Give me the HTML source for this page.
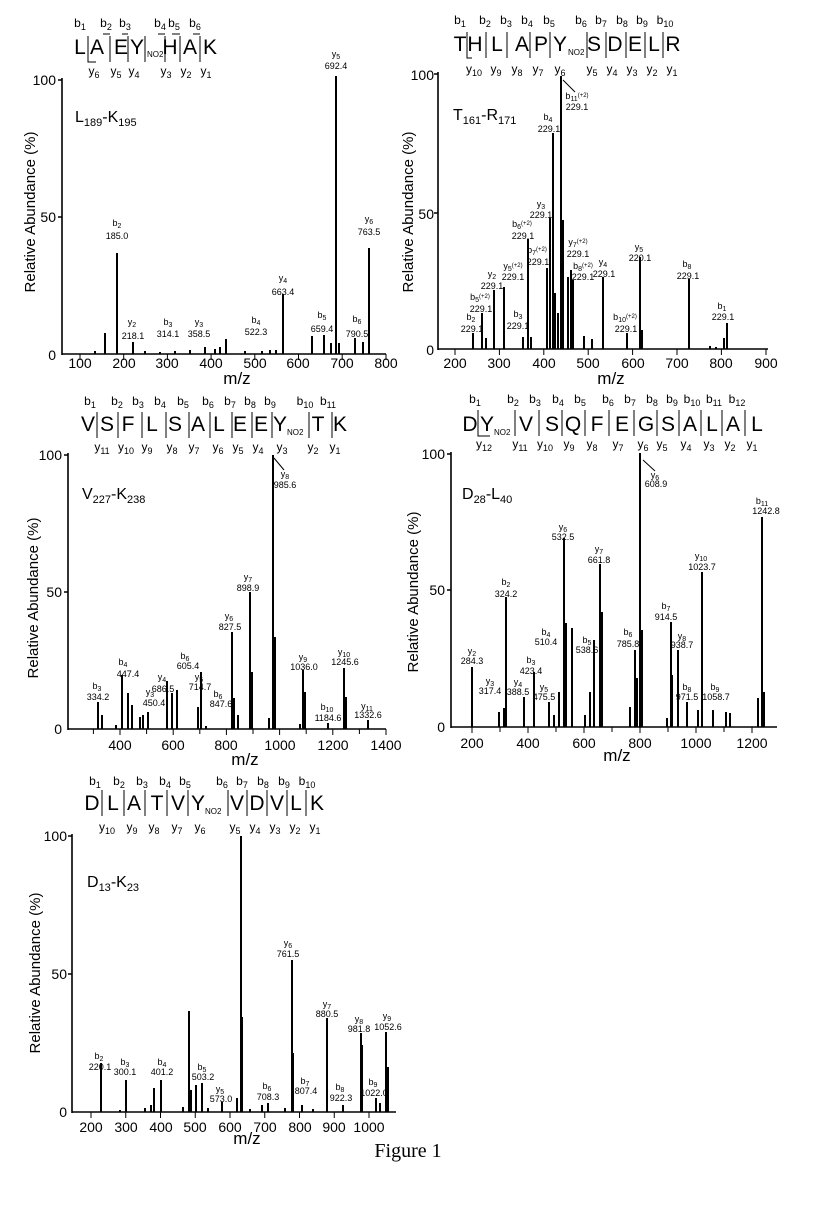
<!DOCTYPE html>
<html><head><meta charset="utf-8"><style>
html,body{margin:0;padding:0;background:#fff}
svg{display:block}
text{font-family:"Liberation Sans",sans-serif;fill:#000}
.t{font-size:14px;text-anchor:middle}
.yt{font-size:14px;text-anchor:end}
.p{font-size:9px;text-anchor:middle}
.h{font-size:21px;text-anchor:middle}
.s{font-size:12px;text-anchor:middle}
.ax{font-size:15px;text-anchor:middle}
.nm{font-size:16px}
.mz{font-size:17px;text-anchor:middle}
.pk{stroke:#000;stroke-width:2;fill:none}
.ln{stroke:#000;stroke-width:1.6;fill:none}
.th{stroke:#000;stroke-width:1;fill:none}
</style></head><body>
<svg width="815" height="1205" viewBox="0 0 815 1205" xmlns="http://www.w3.org/2000/svg">

<!-- ===== Panel 1 ===== -->
<g>
<text class="s" x="80" y="27">b<tspan font-size="9" dy="3">1</tspan></text>
<text class="s" x="106" y="27">b<tspan font-size="9" dy="3">2</tspan></text>
<text class="s" x="125" y="27">b<tspan font-size="9" dy="3">3</tspan></text>
<text class="s" x="160" y="27">b<tspan font-size="9" dy="3">4</tspan></text>
<text class="s" x="174" y="27">b<tspan font-size="9" dy="3">5</tspan></text>
<text class="s" x="195" y="27">b<tspan font-size="9" dy="3">6</tspan></text>
<text class="h" x="80" y="54">L</text><text class="h" x="97" y="54">A</text><text class="h" x="121" y="54">E</text><text class="h" x="137" y="54">Y</text><text x="147" y="57" font-size="8">NO2</text><text class="h" x="170" y="54">H</text><text class="h" x="190" y="54">A</text><text class="h" x="210" y="54">K</text>
<path class="th" d="M88 36V62H96 M110 36V62 M103 34H110 M128 36V62 M122 34H128 M145 36V62 M165 36V62 M158 34H165 M180 36V62 M172 34H180 M200 36V62 M193 34H200"/>
<text class="s" x="94" y="75">y<tspan font-size="9" dy="3">6</tspan></text>
<text class="s" x="116" y="75">y<tspan font-size="9" dy="3">5</tspan></text>
<text class="s" x="134" y="75">y<tspan font-size="9" dy="3">4</tspan></text>
<text class="s" x="166" y="75">y<tspan font-size="9" dy="3">3</tspan></text>
<text class="s" x="186" y="75">y<tspan font-size="9" dy="3">2</tspan></text>
<text class="s" x="206" y="75">y<tspan font-size="9" dy="3">1</tspan></text>

<path class="ln" d="M62 78V355 M58 80H62 M58 217H62 M62 354H386"/>
<path class="th" d="M80 354v6 M123.7 354v6 M167.4 354v6 M211.1 354v6 M254.8 354v6 M298.5 354v6 M342.2 354v6 M386 354v6"/>
<text class="yt" x="56" y="85">100</text><text class="yt" x="56" y="222">50</text><text class="yt" x="56" y="360">0</text>
<text class="t" x="80" y="368">100</text><text class="t" x="124" y="368">200</text><text class="t" x="167" y="368">300</text><text class="t" x="211" y="368">400</text><text class="t" x="255" y="368">500</text><text class="t" x="298" y="368">600</text><text class="t" x="342" y="368">700</text><text class="t" x="386" y="368">800</text>
<text class="mz" x="237" y="384">m/z</text>
<text class="ax" transform="translate(35,212) rotate(-90)">Relative Abundance (%)</text>
<text class="nm" x="75" y="122">L<tspan font-size="11" dy="4">189</tspan><tspan dy="-4">-K</tspan><tspan font-size="11" dy="4">195</tspan></text>
<path class="pk" d="M105 354V333 M117 354V253 M133 354V342 M205 354V347 M226 354V339 M283 354V294 M312 354V336 M324 354V335 M331 354V343 M336 354V76 M339 354V343 M355 354V338 M363 354V342 M369 354V248 M95 354V351 M145 354V351 M160 354V352 M175 354V351 M190 354V350 M215 354V349 M220 354V347 M245 354V351 M262 354V351 M270 354V350 M276 354V350"/>
<g class="p">
<text x="336" y="57">y<tspan font-size="7" dy="2">5</tspan></text><text x="336" y="69">692.4</text>
<text x="117" y="226">b<tspan font-size="7" dy="2">2</tspan></text><text x="117" y="239">185.0</text>
<text x="369" y="222">y<tspan font-size="7" dy="2">6</tspan></text><text x="369" y="235">763.5</text>
<text x="283" y="281">y<tspan font-size="7" dy="2">4</tspan></text><text x="283" y="295">663.4</text>
<text x="322" y="318">b<tspan font-size="7" dy="2">5</tspan></text><text x="322" y="332">659.4</text>
<text x="357" y="322">b<tspan font-size="7" dy="2">6</tspan></text><text x="357" y="337">790.5</text>
<text x="132" y="325">y<tspan font-size="7" dy="2">2</tspan></text><text x="133" y="339">218.1</text>
<text x="168" y="325">b<tspan font-size="7" dy="2">3</tspan></text><text x="168" y="337">314.1</text>
<text x="199" y="325">y<tspan font-size="7" dy="2">3</tspan></text><text x="199" y="337">358.5</text>
<text x="256" y="323">b<tspan font-size="7" dy="2">4</tspan></text><text x="256" y="335">522.3</text>
</g>
</g>

<!-- ===== Panel 2 ===== -->
<g>
<g class="s">
<text x="460" y="24">b<tspan font-size="9" dy="3">1</tspan></text><text x="485" y="24">b<tspan font-size="9" dy="3">2</tspan></text><text x="506" y="24">b<tspan font-size="9" dy="3">3</tspan></text><text x="527" y="24">b<tspan font-size="9" dy="3">4</tspan></text><text x="549" y="24">b<tspan font-size="9" dy="3">5</tspan></text><text x="581" y="24">b<tspan font-size="9" dy="3">6</tspan></text><text x="601" y="24">b<tspan font-size="9" dy="3">7</tspan></text><text x="622" y="24">b<tspan font-size="9" dy="3">8</tspan></text><text x="642" y="24">b<tspan font-size="9" dy="3">9</tspan></text><text x="665" y="24">b<tspan font-size="9" dy="3">10</tspan></text>
<text x="474" y="73">y<tspan font-size="9" dy="3">10</tspan></text><text x="496" y="73">y<tspan font-size="9" dy="3">9</tspan></text><text x="517" y="73">y<tspan font-size="9" dy="3">8</tspan></text><text x="538" y="73">y<tspan font-size="9" dy="3">7</tspan></text><text x="560" y="73">y<tspan font-size="9" dy="3">6</tspan></text><text x="592" y="73">y<tspan font-size="9" dy="3">5</tspan></text><text x="612" y="73">y<tspan font-size="9" dy="3">4</tspan></text><text x="632" y="73">y<tspan font-size="9" dy="3">3</tspan></text><text x="652" y="73">y<tspan font-size="9" dy="3">2</tspan></text><text x="672" y="73">y<tspan font-size="9" dy="3">1</tspan></text>
</g>
<g class="h"><text x="460" y="51">T</text><text x="475" y="51">H</text><text x="497" y="51">L</text><text x="522" y="51">A</text><text x="541" y="51">P</text><text x="560" y="51">Y</text><text x="594" y="51">S</text><text x="615" y="51">D</text><text x="635" y="51">E</text><text x="654" y="51">L</text><text x="673" y="51">R</text></g>
<text x="568" y="55" font-size="8">NO2</text>
<path class="th" d="M467 32V58H472 M486 32V58 M507 32V58 M530 32V58 M550 32V58 M587 32V58 M606 32V58 M626 32V58 M645 32V58 M663 32V58"/>
<path class="ln" d="M438 72V350 M434 74H438 M434 213H438 M438 349H768"/>
<path class="th" d="M455 349v6 M499.4 349v6 M543.8 349v6 M588.2 349v6 M632.6 349v6 M677 349v6 M721.4 349v6 M766 349v6"/>
<text class="yt" x="434" y="80">100</text><text class="yt" x="434" y="219">50</text><text class="yt" x="434" y="355">0</text>
<text class="t" x="455" y="368">200</text><text class="t" x="499" y="368">300</text><text class="t" x="544" y="368">400</text><text class="t" x="588" y="368">500</text><text class="t" x="633" y="368">600</text><text class="t" x="677" y="368">700</text><text class="t" x="721" y="368">800</text><text class="t" x="766" y="368">900</text>
<text class="mz" x="611" y="384">m/z</text>
<text class="ax" transform="translate(413,212) rotate(-90)">Relative Abundance (%)</text>
<text class="nm" x="453" y="120">T<tspan font-size="11" dy="4">161</tspan><tspan dy="-4">-R</tspan><tspan font-size="11" dy="4">171</tspan></text>
<path class="pk" d="M473 349V333 M482 349V313 M486 349V338 M494 349V290 M504 349V287 M523 349V337 M528 349V239 M531 349V337 M547 349V268 M550 349V218 M553 349V133 M555 349V293 M558 349V313 M561 349V76 M563 349V220 M568 349V277 M571 349V270 M573 349V280 M584 349V336 M592 349V339 M603 349V277 M627 349V333 M640 349V257 M642 349V330 M689 349V279 M724 349V338 M727 349V323 M710 349V346 M716 349V347"/>
<g class="p">
<text x="577" y="99">b<tspan font-size="7" dy="2">11</tspan><tspan font-size="6" dy="-4">(+2)</tspan></text><text x="577" y="110">229.1</text>
<path class="th" d="M563 80L575 92"/>
<text x="548" y="120">b<tspan font-size="7" dy="2">4</tspan></text><text x="549" y="132">229.1</text>
<text x="541" y="207">y<tspan font-size="7" dy="2">3</tspan></text><text x="541" y="218">229.1</text>
<text x="522" y="227">b<tspan font-size="7" dy="2">6</tspan><tspan font-size="6" dy="-4">(+2)</tspan></text><text x="523" y="239">229.1</text>
<text x="537" y="253">b<tspan font-size="7" dy="2">7</tspan><tspan font-size="6" dy="-4">(+2)</tspan></text><text x="538" y="265">229.1</text>
<text x="578" y="245">y<tspan font-size="7" dy="2">7</tspan><tspan font-size="6" dy="-4">(+2)</tspan></text><text x="578" y="257">229.1</text>
<text x="513" y="269">y<tspan font-size="7" dy="2">5</tspan><tspan font-size="6" dy="-4">(+2)</tspan></text><text x="513" y="280">229.1</text>
<text x="492" y="277">y<tspan font-size="7" dy="2">2</tspan></text><text x="492" y="289">229.1</text>
<text x="583" y="269">b<tspan font-size="7" dy="2">8</tspan><tspan font-size="6" dy="-4">(+2)</tspan></text><text x="583" y="280">229.1</text>
<text x="603" y="265">y<tspan font-size="7" dy="2">4</tspan></text><text x="604" y="277">229.1</text>
<text x="639" y="250">y<tspan font-size="7" dy="2">5</tspan></text><text x="640" y="261">220.1</text>
<text x="687" y="267">b<tspan font-size="7" dy="2">8</tspan></text><text x="688" y="279">229.1</text>
<text x="480" y="300">b<tspan font-size="7" dy="2">5</tspan><tspan font-size="6" dy="-4">(+2)</tspan></text><text x="481" y="312">229.1</text>
<text x="471" y="320">b<tspan font-size="7" dy="2">2</tspan></text><text x="472" y="332">229.1</text>
<text x="518" y="317">b<tspan font-size="7" dy="2">3</tspan></text><text x="518" y="329">229.1</text>
<text x="625" y="320">b<tspan font-size="7" dy="2">10</tspan><tspan font-size="6" dy="-4">(+2)</tspan></text><text x="626" y="332">229.1</text>
<text x="722" y="309">b<tspan font-size="7" dy="2">1</tspan></text><text x="723" y="320">229.1</text>
</g>
</g>

<!-- ===== Panel 3 ===== -->
<g>
<g class="s">
<text x="90" y="405">b<tspan font-size="9" dy="3">1</tspan></text><text x="117" y="405">b<tspan font-size="9" dy="3">2</tspan></text><text x="138" y="405">b<tspan font-size="9" dy="3">3</tspan></text><text x="160" y="405">b<tspan font-size="9" dy="3">4</tspan></text><text x="183" y="405">b<tspan font-size="9" dy="3">5</tspan></text><text x="208" y="405">b<tspan font-size="9" dy="3">6</tspan></text><text x="230" y="405">b<tspan font-size="9" dy="3">7</tspan></text><text x="250" y="405">b<tspan font-size="9" dy="3">8</tspan></text><text x="270" y="405">b<tspan font-size="9" dy="3">9</tspan></text><text x="305" y="405">b<tspan font-size="9" dy="3">10</tspan></text><text x="328" y="405">b<tspan font-size="9" dy="3">11</tspan></text>
<text x="102" y="451">y<tspan font-size="9" dy="3">11</tspan></text><text x="126" y="451">y<tspan font-size="9" dy="3">10</tspan></text><text x="147" y="451">y<tspan font-size="9" dy="3">9</tspan></text><text x="172" y="451">y<tspan font-size="9" dy="3">8</tspan></text><text x="194" y="451">y<tspan font-size="9" dy="3">7</tspan></text><text x="218" y="451">y<tspan font-size="9" dy="3">6</tspan></text><text x="238" y="451">y<tspan font-size="9" dy="3">5</tspan></text><text x="258" y="451">y<tspan font-size="9" dy="3">4</tspan></text><text x="282" y="451">y<tspan font-size="9" dy="3">3</tspan></text><text x="313" y="451">y<tspan font-size="9" dy="3">2</tspan></text><text x="335" y="451">y<tspan font-size="9" dy="3">1</tspan></text>
</g>
<g class="h"><text x="88" y="431">V</text><text x="107" y="431">S</text><text x="128" y="431">F</text><text x="152" y="431">L</text><text x="175" y="431">S</text><text x="198" y="431">A</text><text x="219" y="431">L</text><text x="240" y="431">E</text><text x="261" y="431">E</text><text x="280" y="431">Y</text><text x="318" y="431">T</text><text x="340" y="431">K</text></g>
<text x="287" y="435" font-size="8">NO2</text>
<path class="th" d="M97 412V438 M118 412V438 M142 412V438 M166 412V438 M189 412V438 M210 412V438 M232 412V438 M252 412V438 M272 412V438 M309 412V438 M332 412V438"/>
<path class="ln" d="M68 453V730 M64 455H68 M64 592H68 M68 729H386"/>
<path class="th" d="M93.4 729v5 M120 729v6 M146.6 729v5 M173.2 729v6 M199.8 729v5 M226.4 729v6 M253 729v5 M279.6 729v6 M306.2 729v5 M332.8 729v6 M359.4 729v5 M386 729v6"/>
<text class="yt" x="62" y="460">100</text><text class="yt" x="62" y="597">50</text><text class="yt" x="62" y="734">0</text>
<text class="t" x="120" y="750">400</text><text class="t" x="173" y="750">600</text><text class="t" x="226" y="750">800</text><text class="t" x="280" y="750">1000</text><text class="t" x="333" y="750">1200</text><text class="t" x="386" y="750">1400</text>
<text class="mz" x="245" y="765">m/z</text>
<text class="ax" transform="translate(38,598) rotate(-90)">Relative Abundance (%)</text>
<text class="nm" x="82" y="499">V<tspan font-size="11" dy="4">227</tspan><tspan dy="-4">-K</tspan><tspan font-size="11" dy="4">238</tspan></text>
<path class="pk" d="M98 729V702 M102 729V715 M122 729V675 M128 729V693 M132 729V705 M140 729V717 M143 729V715 M148 729V712 M167 729V681 M172 729V693 M177 729V690 M198 729V707 M201 729V672 M232 729V632 M234 729V698 M238 729V715 M250 729V592 M252 729V672 M269 729V718 M273 729V455 M275 729V637 M303 729V670 M305 729V692 M328 729V723 M344 729V668 M346 729V697 M368 729V720 M116 729V725 M206 729V726 M300 729V724"/>
<g class="p">
<text x="285" y="477">y<tspan font-size="7" dy="2">8</tspan></text><text x="285" y="488">985.6</text>
<path class="th" d="M274 458L284 470"/>
<text x="248" y="580">y<tspan font-size="7" dy="2">7</tspan></text><text x="248" y="591">898.9</text>
<text x="229" y="619">y<tspan font-size="7" dy="2">6</tspan></text><text x="230" y="630">827.5</text>
<text x="123" y="665">b<tspan font-size="7" dy="2">4</tspan></text><text x="128" y="677">447.4</text>
<text x="97" y="689">b<tspan font-size="7" dy="2">3</tspan></text><text x="98" y="700">334.2</text>
<text x="150" y="695">y<tspan font-size="7" dy="2">3</tspan></text><text x="154" y="706">450.4</text>
<text x="162" y="680">y<tspan font-size="7" dy="2">4</tspan></text><text x="163" y="692">686.5</text>
<text x="185" y="659">b<tspan font-size="7" dy="2">6</tspan></text><text x="188" y="669">605.4</text>
<text x="199" y="680">y<tspan font-size="7" dy="2">5</tspan></text><text x="200" y="690">714.7</text>
<text x="218" y="697">b<tspan font-size="7" dy="2">6</tspan></text><text x="221" y="707">847.6</text>
<text x="303" y="660">y<tspan font-size="7" dy="2">9</tspan></text><text x="304" y="670">1036.0</text>
<text x="344" y="655">y<tspan font-size="7" dy="2">10</tspan></text><text x="345" y="665">1245.6</text>
<text x="327" y="710">b<tspan font-size="7" dy="2">10</tspan></text><text x="328" y="721">1184.6</text>
<text x="367" y="709">y<tspan font-size="7" dy="2">11</tspan></text><text x="368" y="718">1332.6</text>
</g>
</g>

<!-- ===== Panel 4 ===== -->
<g>
<g class="s">
<text x="475" y="403">b<tspan font-size="9" dy="3">1</tspan></text><text x="513" y="403">b<tspan font-size="9" dy="3">2</tspan></text><text x="535" y="403">b<tspan font-size="9" dy="3">3</tspan></text><text x="558" y="403">b<tspan font-size="9" dy="3">4</tspan></text><text x="580" y="403">b<tspan font-size="9" dy="3">5</tspan></text><text x="608" y="403">b<tspan font-size="9" dy="3">6</tspan></text><text x="630" y="403">b<tspan font-size="9" dy="3">7</tspan></text><text x="652" y="403">b<tspan font-size="9" dy="3">8</tspan></text><text x="672" y="403">b<tspan font-size="9" dy="3">9</tspan></text><text x="692" y="403">b<tspan font-size="9" dy="3">10</tspan></text><text x="714" y="403">b<tspan font-size="9" dy="3">11</tspan></text><text x="737" y="403">b<tspan font-size="9" dy="3">12</tspan></text>
<text x="484" y="448">y<tspan font-size="9" dy="3">12</tspan></text><text x="520" y="448">y<tspan font-size="9" dy="3">11</tspan></text><text x="545" y="448">y<tspan font-size="9" dy="3">10</tspan></text><text x="569" y="448">y<tspan font-size="9" dy="3">9</tspan></text><text x="592" y="448">y<tspan font-size="9" dy="3">8</tspan></text><text x="618" y="448">y<tspan font-size="9" dy="3">7</tspan></text><text x="643" y="448">y<tspan font-size="9" dy="3">6</tspan></text><text x="662" y="448">y<tspan font-size="9" dy="3">5</tspan></text><text x="686" y="448">y<tspan font-size="9" dy="3">4</tspan></text><text x="709" y="448">y<tspan font-size="9" dy="3">3</tspan></text><text x="730" y="448">y<tspan font-size="9" dy="3">2</tspan></text><text x="752" y="448">y<tspan font-size="9" dy="3">1</tspan></text>
</g>
<g class="h"><text x="470" y="431">D</text><text x="487" y="431">Y</text><text x="526" y="431">V</text><text x="552" y="431">S</text><text x="573" y="431">Q</text><text x="597" y="431">F</text><text x="622" y="431">E</text><text x="646" y="431">G</text><text x="668" y="431">S</text><text x="690" y="431">A</text><text x="712" y="431">L</text><text x="733" y="431">A</text><text x="757" y="431">L</text></g>
<text x="494" y="435" font-size="8">NO2</text>
<path class="th" d="M478 410V436H490 M515 410V436 M539 410V436 M562 410V436 M585 410V436 M609 410V436 M634 410V436 M657 410V436 M679 410V436 M701 410V436 M722 410V436 M745 410V436"/>
<path class="ln" d="M451 452V728 M447 454H451 M447 590H451 M451 727H777"/>
<path class="th" d="M472 727v6 M500 727v5 M528 727v6 M556 727v5 M584 727v6 M612 727v5 M640 727v6 M668 727v5 M696 727v6 M724 727v5 M752 727v6"/>
<text class="yt" x="445" y="459">100</text><text class="yt" x="445" y="595">50</text><text class="yt" x="445" y="732">0</text>
<text class="t" x="472" y="748">200</text><text class="t" x="528" y="748">400</text><text class="t" x="584" y="748">600</text><text class="t" x="640" y="748">800</text><text class="t" x="696" y="748">1000</text><text class="t" x="752" y="748">1200</text>
<text class="mz" x="617" y="761">m/z</text>
<text class="ax" transform="translate(418,592) rotate(-90)">Relative Abundance (%)</text>
<text class="nm" x="462" y="499">D<tspan font-size="11" dy="4">28</tspan><tspan dy="-4">-L</tspan><tspan font-size="11" dy="4">40</tspan></text>
<path class="pk" d="M472 727V667 M499 727V712 M504 727V708 M506 727V597 M524 727V697 M534 727V672 M549 727V702 M554 727V715 M559 727V692 M564 727V538 M566 727V623 M572 727V628 M585 727V715 M590 727V692 M594 727V640 M600 727V564 M602 727V612 M630 727V707 M635 727V650 M637 727V678 M640 727V453 M642 727V630 M667 727V718 M671 727V622 M672 727V675 M678 727V650 M687 727V702 M698 727V710 M702 727V572 M713 727V710 M726 727V712 M730 727V713 M758 727V698 M762 727V517 M764 727V692"/>
<g class="p">
<text x="655" y="478">y<tspan font-size="7" dy="2">6</tspan></text><text x="656" y="487">608.9</text>
<path class="th" d="M643 460L655 471"/>
<text x="762" y="504">b<tspan font-size="7" dy="2">11</tspan></text><text x="766" y="514">1242.8</text>
<text x="563" y="530">y<tspan font-size="7" dy="2">6</tspan></text><text x="563" y="540">532.5</text>
<text x="599" y="552">y<tspan font-size="7" dy="2">7</tspan></text><text x="599" y="563">661.8</text>
<text x="701" y="559">y<tspan font-size="7" dy="2">10</tspan></text><text x="702" y="570">1023.7</text>
<text x="506" y="585">b<tspan font-size="7" dy="2">2</tspan></text><text x="506" y="597">324.2</text>
<text x="666" y="609">b<tspan font-size="7" dy="2">7</tspan></text><text x="666" y="620">914.5</text>
<text x="546" y="635">b<tspan font-size="7" dy="2">4</tspan></text><text x="546" y="645">510.4</text>
<text x="587" y="643">b<tspan font-size="7" dy="2">5</tspan></text><text x="587" y="653">538.6</text>
<text x="628" y="635">b<tspan font-size="7" dy="2">6</tspan></text><text x="628" y="647">785.8</text>
<text x="682" y="639">y<tspan font-size="7" dy="2">8</tspan></text><text x="682" y="648">938.7</text>
<text x="472" y="654">y<tspan font-size="7" dy="2">2</tspan></text><text x="472" y="664">284.3</text>
<text x="531" y="663">b<tspan font-size="7" dy="2">3</tspan></text><text x="531" y="674">423.4</text>
<text x="490" y="684">y<tspan font-size="7" dy="2">3</tspan></text><text x="490" y="694">317.4</text>
<text x="518" y="685">y<tspan font-size="7" dy="2">4</tspan></text><text x="518" y="695">388.5</text>
<text x="544" y="690">y<tspan font-size="7" dy="2">5</tspan></text><text x="544" y="700">475.5</text>
<text x="687" y="690">b<tspan font-size="7" dy="2">8</tspan></text><text x="687" y="700">971.5</text>
<text x="715" y="690">b<tspan font-size="7" dy="2">9</tspan></text><text x="716" y="700">1058.7</text>
</g>
</g>

<!-- ===== Panel 5 ===== -->
<g>
<g class="s">
<text x="95" y="785">b<tspan font-size="9" dy="3">1</tspan></text><text x="119" y="785">b<tspan font-size="9" dy="3">2</tspan></text><text x="142" y="785">b<tspan font-size="9" dy="3">3</tspan></text><text x="165" y="785">b<tspan font-size="9" dy="3">4</tspan></text><text x="185" y="785">b<tspan font-size="9" dy="3">5</tspan></text><text x="222" y="785">b<tspan font-size="9" dy="3">6</tspan></text><text x="242" y="785">b<tspan font-size="9" dy="3">7</tspan></text><text x="263" y="785">b<tspan font-size="9" dy="3">8</tspan></text><text x="284" y="785">b<tspan font-size="9" dy="3">9</tspan></text><text x="307" y="785">b<tspan font-size="9" dy="3">10</tspan></text>
<text x="107" y="831">y<tspan font-size="9" dy="3">10</tspan></text><text x="132" y="831">y<tspan font-size="9" dy="3">9</tspan></text><text x="154" y="831">y<tspan font-size="9" dy="3">8</tspan></text><text x="177" y="831">y<tspan font-size="9" dy="3">7</tspan></text><text x="200" y="831">y<tspan font-size="9" dy="3">6</tspan></text><text x="235" y="831">y<tspan font-size="9" dy="3">5</tspan></text><text x="255" y="831">y<tspan font-size="9" dy="3">4</tspan></text><text x="275" y="831">y<tspan font-size="9" dy="3">3</tspan></text><text x="295" y="831">y<tspan font-size="9" dy="3">2</tspan></text><text x="315" y="831">y<tspan font-size="9" dy="3">1</tspan></text>
</g>
<g class="h"><text x="92" y="810">D</text><text x="113" y="810">L</text><text x="134" y="810">A</text><text x="157" y="810">T</text><text x="178" y="810">V</text><text x="198" y="810">Y</text><text x="237" y="810">V</text><text x="257" y="810">D</text><text x="277" y="810">V</text><text x="296" y="810">L</text><text x="317" y="810">K</text></g>
<text x="205" y="814" font-size="8">NO2</text>
<path class="th" d="M102 790V816 M124 790V816 M145 790V816 M167 790V816 M188 790V816 M228 790V816 M247 790V816 M267 790V816 M287 790V816 M306 790V816"/>
<path class="ln" d="M72 834V1113 M68 836H72 M68 974H72 M72 1112H396"/>
<path class="th" d="M91 1112v6 M125.75 1112v6 M160.5 1112v6 M195.25 1112v6 M230 1112v6 M264.75 1112v6 M299.5 1112v6 M334.25 1112v6 M369 1112v6"/>
<text class="yt" x="67" y="841">100</text><text class="yt" x="67" y="979">50</text><text class="yt" x="67" y="1117">0</text>
<text class="t" x="91" y="1132">200</text><text class="t" x="126" y="1132">300</text><text class="t" x="161" y="1132">400</text><text class="t" x="195" y="1132">500</text><text class="t" x="230" y="1132">600</text><text class="t" x="265" y="1132">700</text><text class="t" x="300" y="1132">800</text><text class="t" x="334" y="1132">900</text><text class="t" x="369" y="1132">1000</text>
<text class="mz" x="247" y="1144">m/z</text>
<text class="ax" transform="translate(40,973) rotate(-90)">Relative Abundance (%)</text>
<text class="nm" x="87" y="887">D<tspan font-size="11" dy="4">13</tspan><tspan dy="-4">-K</tspan><tspan font-size="11" dy="4">23</tspan></text>
<path class="pk" d="M101 1112V1063 M126 1112V1080 M145 1112V1108 M151 1112V1105 M154 1112V1088 M161 1112V1080 M183 1112V1107 M189 1112V1011 M191 1112V1090 M196 1112V1085 M202 1112V1083 M222 1112V1102 M237 1112V1098 M241 1112V836 M242 1112V1017 M262 1112V1105 M268 1112V1103 M292 1112V960 M293 1112V1053 M302 1112V1105 M327 1112V1018 M343 1112V1105 M361 1112V1033 M362 1112V1045 M376 1112V1098 M380 1112V1103 M386 1112V1032 M388 1112V1067 M120 1112V1110 M208 1112V1108 M250 1112V1109 M285 1112V1108 M313 1112V1109"/>
<g class="p">
<text x="288" y="946">y<tspan font-size="7" dy="2">6</tspan></text><text x="288" y="957">761.5</text>
<text x="327" y="1007">y<tspan font-size="7" dy="2">7</tspan></text><text x="327" y="1017">880.5</text>
<text x="359" y="1022">y<tspan font-size="7" dy="2">8</tspan></text><text x="359" y="1032">981.8</text>
<text x="387" y="1019">y<tspan font-size="7" dy="2">9</tspan></text><text x="388" y="1030">1052.6</text>
<text x="99" y="1059">b<tspan font-size="7" dy="2">2</tspan></text><text x="100" y="1070">220.1</text>
<text x="125" y="1065">b<tspan font-size="7" dy="2">3</tspan></text><text x="125" y="1075">300.1</text>
<text x="162" y="1065">b<tspan font-size="7" dy="2">4</tspan></text><text x="162" y="1075">401.2</text>
<text x="202" y="1070">b<tspan font-size="7" dy="2">5</tspan></text><text x="203" y="1080">503.2</text>
<text x="220" y="1092">y<tspan font-size="7" dy="2">5</tspan></text><text x="221" y="1102">573.0</text>
<text x="267" y="1089">b<tspan font-size="7" dy="2">6</tspan></text><text x="268" y="1100">708.3</text>
<text x="305" y="1084">b<tspan font-size="7" dy="2">7</tspan></text><text x="306" y="1094">807.4</text>
<text x="340" y="1090">b<tspan font-size="7" dy="2">8</tspan></text><text x="341" y="1101">922.3</text>
<text x="373" y="1085">b<tspan font-size="7" dy="2">9</tspan></text><text x="374" y="1096">1022.0</text>
</g>
</g>

<text x="408" y="1157" font-family="Liberation Serif, serif" font-size="20" text-anchor="middle" style="font-family:'Liberation Serif',serif">Figure 1</text>
</svg>
</body></html>
